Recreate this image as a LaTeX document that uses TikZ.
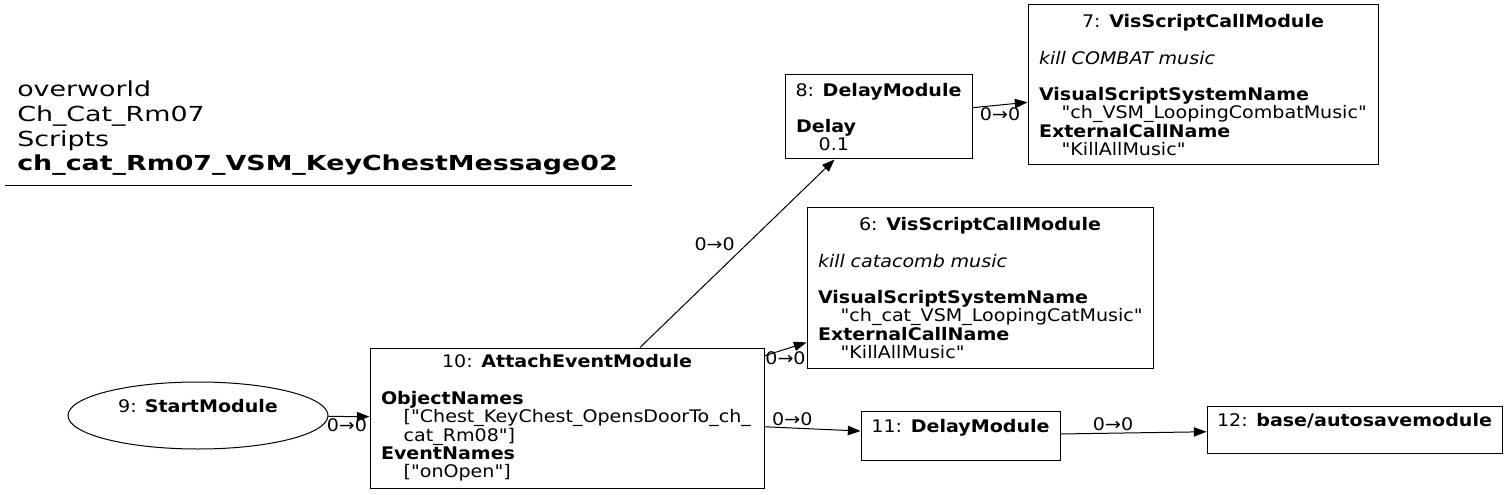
\documentclass[tikz,border=0pt]{standalone}
\usepackage{fontspec}
\setmainfont{DejaVu Sans}[FakeStretch=1.1, Ligatures=TeXOff, BoldFont={DejaVu Sans Bold}, ItalicFont={DejaVu Sans Oblique}]
\newfontfamily\titlefont{DejaVu Sans}[FakeStretch=1.3, BoldFont={DejaVu Sans Bold}]
\usetikzlibrary{arrows.meta, shapes.geometric}

\begin{document}
\begin{tikzpicture}[x=0.75pt, y=-0.75pt,
        every node/.style={inner sep=0pt},
        mod/.style={draw, rectangle, line width=0.75pt, inner xsep=8.25pt, align=left, font=\fontsize{13pt}{13.7pt}\selectfont},
        edge/.style={-{Triangle[length=9.5pt, width=7pt]}, line width=0.75pt},
        lbl/.style={font=\fontsize{13pt}{13.7pt}\selectfont, inner sep=1.5pt}]
        \useasboundingbox (0,0) rectangle (1508,495);
        \node[anchor=south west, text width=451.5pt, inner xsep=9pt, inner ysep=7.5pt, align=left, font=\titlefont\fontsize{15.5pt}{18.5pt}\selectfont] (title) at (5,186)
            {overworld\\Ch\_Cat\_Rm07\\Scripts\\\textbf{ch\_cat\_Rm07\_VSM\_KeyChestMessage02}};
        \draw[line width=0.75pt] (title.south west) -- (title.south east);
        \node[draw, ellipse, line width=0.75pt, minimum width=195pt, minimum height=50.25pt, align=center, font=\fontsize{13pt}{13.7pt}\selectfont] (n9) at (198,415.5)
            {9: \textbf{StartModule}\\ \mbox{}};
        \node[mod, text width=279pt, minimum height=105pt] (n10) at (567,418)
            {\makebox[\hsize][c]{10: \textbf{AttachEventModule}}\\ \mbox{}\\ \textbf{ObjectNames}\\ \hspace*{17pt}["Chest\_KeyChest\_OpensDoorTo\_ch\_\\ \hspace*{17pt}cat\_Rm08"]\\ \textbf{EventNames}\\ \hspace*{17pt}["onOpen"]};
        \node[mod, text width=123.75pt, minimum height=63pt] (n8) at (878.5,117)
            {\makebox[\hsize][c]{8: \textbf{DelayModule}}\\ \mbox{}\\ \textbf{Delay}\\ \hspace*{17pt}0.1};
        \node[mod, text width=246pt, minimum height=120pt] (n7) at (1203,85)
            {\makebox[\hsize][c]{7: \textbf{VisScriptCallModule}}\\ \mbox{}\\ \textit{kill COMBAT music}\\ \mbox{}\\ \textbf{VisualScriptSystemName}\\ \hspace*{17pt}"ch\_VSM\_LoopingCombatMusic"\\ \textbf{ExternalCallName}\\ \hspace*{17pt}"KillAllMusic"};
        \node[mod, text width=243pt, minimum height=120pt] (n6) at (980,288)
            {\makebox[\hsize][c]{6: \textbf{VisScriptCallModule}}\\ \mbox{}\\ \textit{kill catacomb music}\\ \mbox{}\\ \textbf{VisualScriptSystemName}\\ \hspace*{17pt}"ch\_cat\_VSM\_LoopingCatMusic"\\ \textbf{ExternalCallName}\\ \hspace*{17pt}"KillAllMusic"};
        \node[mod, text width=132.75pt, minimum height=36.75pt] (n11) at (960.5,435.5)
            {\makebox[\hsize][c]{11: \textbf{DelayModule}}\\ \mbox{}};
        \node[mod, text width=204.75pt, minimum height=35.25pt] (n12) at (1354.5,429.5)
            {\makebox[\hsize][c]{12: \textbf{base/autosavemodule}}\\ \mbox{}};
        \draw[edge] (n9) -- node[lbl, pos=0.45, anchor=north] {0→0} (n10);
        \draw[edge] (n10) -- node[lbl, pos=0.5, anchor=south east] {0→0} (n8);
        \draw[edge] (n10) -- node[lbl, pos=0.5, anchor=north] {0→0} (n6);
        \draw[edge] (n10) -- node[lbl, pos=0.29, anchor=south] {0→0} (n11);
        \draw[edge] (n8) -- node[lbl, pos=0.5, anchor=north] {0→0} (n7);
        \draw[edge] (n11) -- node[lbl, pos=0.36, anchor=south] {0→0} (n12);
    \end{tikzpicture}
\end{document}
